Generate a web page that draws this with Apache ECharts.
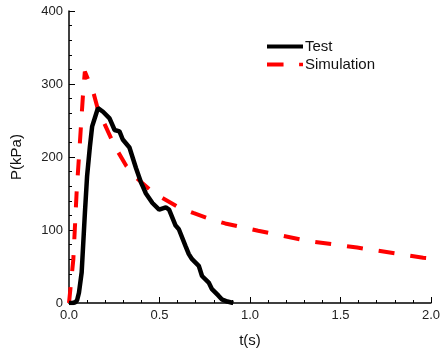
<!DOCTYPE html>
<html><head><meta charset="utf-8">
<script src="https://cdn.jsdelivr.net/npm/echarts@6/dist/echarts.min.js"></script>
<style>html,body{margin:0;padding:0;background:#fff}#c{width:443px;height:353px}</style>
</head><body><div id="c"></div>
<script>
var testT = [0.0, 0.02, 0.035, 0.045, 0.055, 0.07, 0.088, 0.10, 0.115, 0.128, 0.151, 0.16, 0.188, 0.224, 0.252, 0.279, 0.297, 0.334, 0.37, 0.398, 0.407, 0.425, 0.461, 0.498, 0.535, 0.553, 0.562, 0.589, 0.607, 0.644, 0.662, 0.68, 0.717, 0.735, 0.772, 0.79, 0.826, 0.844, 0.875, 0.908];
var testP = [0, 0, 1, 4, 14, 42, 124, 174, 213, 242, 260, 267, 262, 253, 237, 235, 224, 213, 185, 165, 160, 150, 137, 128, 131, 128, 126, 106, 101, 78, 67, 60, 51, 37, 28, 19, 10, 5, 2, 0];
var simT = [0.0, 0.024, 0.042, 0.06, 0.078, 0.0875, 0.133, 0.16, 0.252, 0.316, 0.37, 0.443, 0.516, 0.607, 0.69, 0.78, 0.863, 1.045, 1.319, 1.592, 1.957, 2.0];
var simP = [0, 60, 151, 219, 288, 317, 290, 265, 215, 188, 172, 156, 144, 131, 123, 115, 109, 99, 85, 76, 62, 61];
var xTicks = [0, 0.5, 1.0, 1.5, 2.0];
var yTicks = [0, 100, 200, 300, 400];

function pairs(a, b) { return a.map(function (v, i) { return [v, b[i]]; }); }

var chart = echarts.init(document.getElementById('c'));
var font = 'Liberation Sans, Arial, sans-serif';
chart.setOption({
  animation: false,
  grid: { left: 69, right: 9, top: 11, bottom: 49 },
  legend: {
    left: 267, top: 38, orient: 'vertical', itemGap: 1, padding: 0,
    itemWidth: 36, itemHeight: 4,
    textStyle: { fontFamily: font, fontSize: 15, color: '#111', lineHeight: 17, padding: [0, 0, 0, -3] },
    data: [
      { name: 'Test', icon: 'path://M0,0H36V4H0Z' },
      { name: 'Simulation', icon: 'path://M0,0H17V4H0Z M33,0.3H37V3.7H33Z' }
    ]
  },
  xAxis: {
    type: 'value', min: xTicks[0], max: xTicks[xTicks.length - 1], interval: 0.5,
    name: 't(s)', nameLocation: 'middle', nameGap: 30,
    nameTextStyle: { fontFamily: font, fontSize: 15, color: '#111' },
    axisLine: { lineStyle: { color: '#000', width: 1.5 } },
    axisTick: { inside: true, length: 6, lineStyle: { color: '#000' } },
    minorTick: { show: true, splitNumber: 5, length: 3, lineStyle: { color: '#000' } },
    splitLine: { show: false },
    axisLabel: { fontFamily: font, fontSize: 13, color: '#222', margin: 6,
      formatter: function (v) { return v.toFixed(1); } }
  },
  yAxis: {
    type: 'value', min: yTicks[0], max: yTicks[yTicks.length - 1], interval: 100,
    name: 'P(kPa)', nameLocation: 'middle', nameGap: 45,
    nameTextStyle: { fontFamily: font, fontSize: 15, color: '#111' },
    axisLine: { show: true, lineStyle: { color: '#000', width: 1.5 } },
    axisTick: { show: true, inside: true, length: 6, lineStyle: { color: '#000' } },
    minorTick: { show: true, splitNumber: 5, length: 3, lineStyle: { color: '#000' } },
    splitLine: { show: false },
    axisLabel: { fontFamily: font, fontSize: 13, color: '#222', margin: 6 }
  },
  series: [
    { name: 'Test', type: 'line', data: pairs(testT, testP), symbol: 'none', z: 3,
      lineStyle: { color: '#000', width: 4.5 }, itemStyle: { color: '#000' } },
    { name: 'Simulation', type: 'line', data: pairs(simT, simP), symbol: 'none', z: 2,
      lineStyle: { color: '#ff0000', width: 4, type: [16, 16] }, itemStyle: { color: '#ff0000' } }
  ]
});
</script></body></html>
